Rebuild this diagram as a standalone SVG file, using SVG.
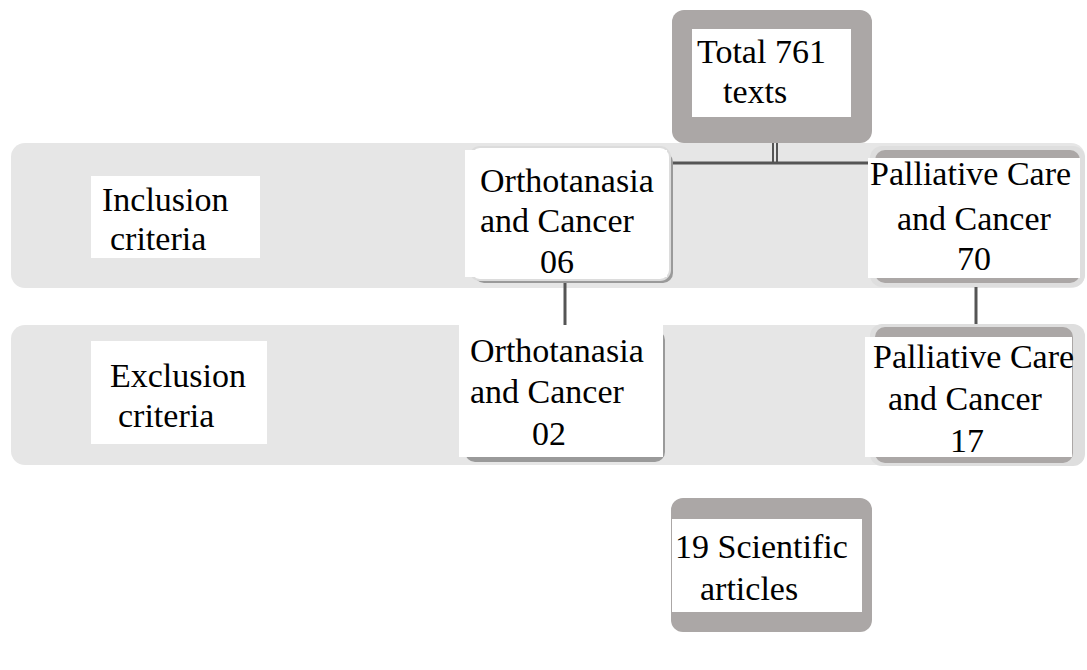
<svg xmlns="http://www.w3.org/2000/svg" width="1087" height="670" viewBox="0 0 1087 670">
<style>
.t{font-family:"Liberation Serif","Times New Roman",serif;font-size:34px;fill:#000}
.band{fill:#e6e6e6}
.gray{fill:#aba7a6}
.white{fill:#fff}
.ln{stroke:#555;stroke-width:3;fill:none}
.sh{fill:#9a9a9a}
.rim{fill:#fff;stroke:#dcdcdc;stroke-width:2}
</style>
<rect width="1087" height="670" fill="#fff"/>
<g id="band-inclusion"><rect class="band" x="11" y="143" width="1074" height="145" rx="14"/></g>
<g id="band-exclusion"><rect class="band" x="11" y="325" width="1074" height="140" rx="14"/></g>
<g id="connectors">
<line class="ln" x1="773" y1="143" x2="773" y2="163" style="stroke-width:2"/>
<line class="ln" x1="777" y1="143" x2="777" y2="163" style="stroke-width:2"/>
<line class="ln" x1="673" y1="163" x2="868" y2="163"/>
<line class="ln" x1="565" y1="283" x2="565" y2="325"/>
<line class="ln" x1="976" y1="283" x2="976" y2="327"/>
</g>
<g id="total">
<rect class="gray" x="672" y="10" width="200" height="133" rx="12"/>
<rect class="white" x="692" y="29" width="159" height="88"/>
<text class="t" x="697" y="63">Total 761</text>
<text class="t" x="723" y="103">texts</text>
</g>
<g id="inclusion-label">
<rect class="white" x="91" y="176" width="169" height="82"/>
<text class="t" x="102" y="211">Inclusion</text>
<text class="t" x="110" y="250">criteria</text>
</g>
<g id="exclusion-label">
<rect class="white" x="91" y="341" width="176" height="103"/>
<text class="t" x="110" y="387">Exclusion</text>
<text class="t" x="118" y="427">criteria</text>
</g>
<g id="ortho-inc">
<rect class="sh" x="474" y="152" width="199" height="131" rx="10"/>
<rect class="rim" x="470" y="147" width="200" height="133" rx="10"/>
<rect class="white" x="465" y="150" width="202" height="127"/>
<text class="t" x="480" y="192">Orthotanasia</text>
<text class="t" x="480" y="232">and Cancer</text>
<text class="t" x="540" y="273">06</text>
</g>
<g id="pall-inc">
<rect fill="#dedede" x="870" y="146" width="215" height="141" rx="12"/>
<rect class="gray" x="875" y="150" width="205" height="133" rx="10"/>
<rect class="white" x="868" y="158" width="212" height="120"/>
<text class="t" x="870" y="185">Palliative Care</text>
<text class="t" x="897" y="230">and Cancer</text>
<text class="t" x="957" y="270">70</text>
</g>
<g id="ortho-exc">
<rect class="sh" x="465" y="330" width="200" height="132" rx="10"/>
<rect class="white" x="459" y="325" width="204" height="132"/>
<text class="t" x="470" y="362">Orthotanasia</text>
<text class="t" x="470" y="403">and Cancer</text>
<text class="t" x="532" y="445">02</text>
</g>
<g id="pall-exc">
<rect fill="#dedede" x="870" y="324" width="215" height="142" rx="12"/>
<rect class="gray" x="875" y="327" width="198" height="136" rx="10"/>
<rect class="white" x="865" y="337" width="207" height="120"/>
<text class="t" x="873" y="368">Palliative Care</text>
<text class="t" x="888" y="410">and Cancer</text>
<text class="t" x="950" y="452">17</text>
</g>
<g id="result">
<rect class="gray" x="671" y="498" width="201" height="134" rx="12"/>
<rect class="white" x="672" y="519" width="190" height="93"/>
<text class="t" x="675" y="558">19 Scientific</text>
<text class="t" x="700" y="600">articles</text>
</g>
</svg>
